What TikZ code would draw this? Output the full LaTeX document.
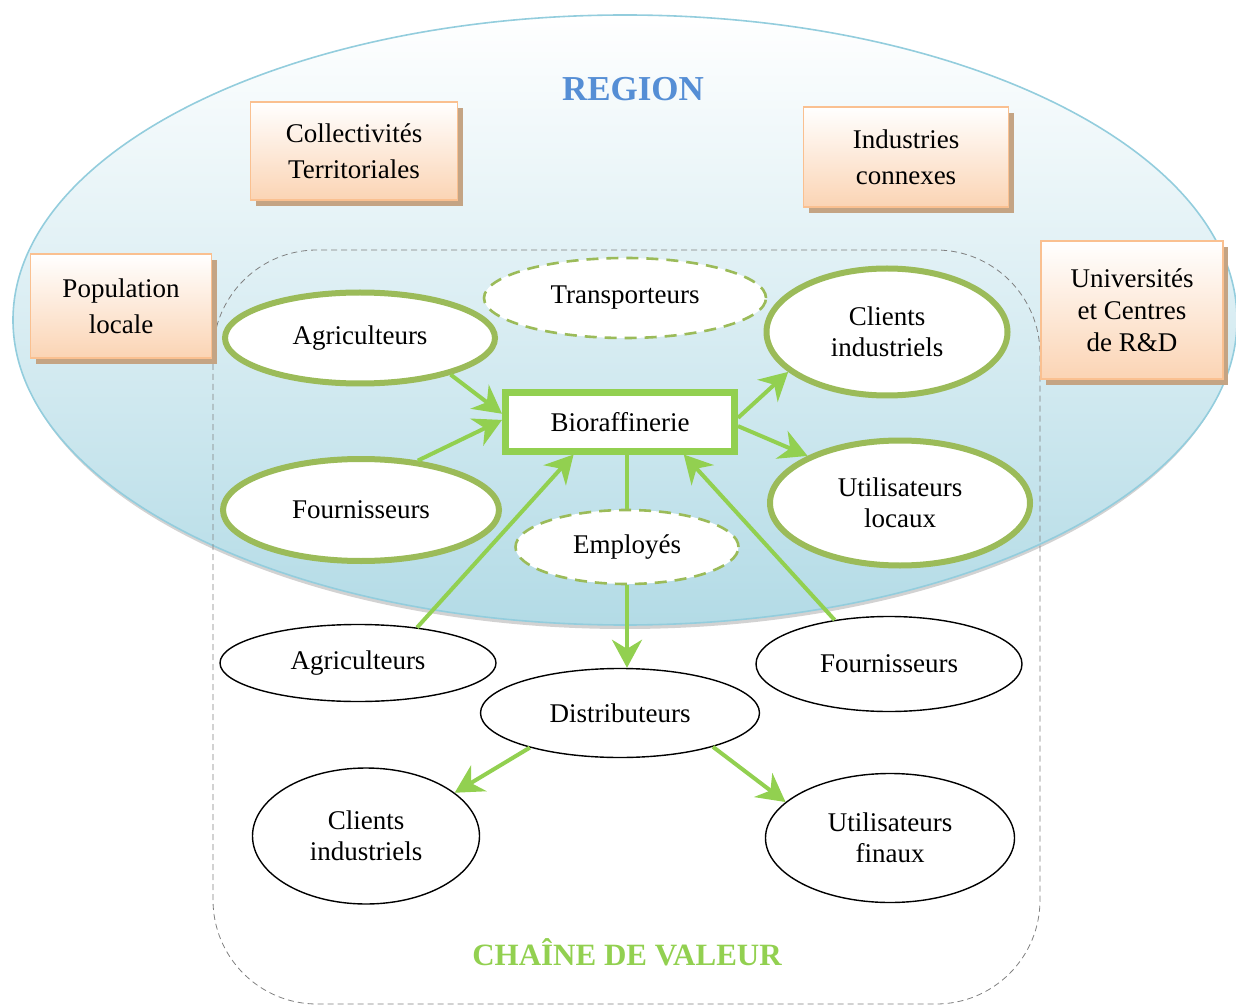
\documentclass[tikz,border=0pt]{standalone}
\usepackage{fontspec}
\setmainfont{Liberation Serif}
\usetikzlibrary{arrows.meta,shadows,shapes.geometric}
\definecolor{regionblue}{HTML}{B3DBE6}
\definecolor{regionline}{HTML}{93CDDD}
\definecolor{regiontitle}{HTML}{558ED5}
\definecolor{leafgreen}{HTML}{9BBB59}
\definecolor{flowgreen}{HTML}{92D050}
\definecolor{boxline}{HTML}{FAC090}
\definecolor{boxfill}{HTML}{FBD4B4}
\definecolor{boxshadow}{HTML}{C4A484}
\begin{document}
\begin{tikzpicture}[x=0.5pt,y=-0.5pt,
    every node/.style={font=\fontsize{13.5}{15.5}\selectfont},
    actor/.style={ellipse, draw=leafgreen, line width=3pt, fill=white, inner sep=0pt, align=center},
    partner/.style={ellipse, draw=leafgreen, dashed, dash pattern=on 6pt off 4pt, line width=1.3pt, fill=white, inner sep=0pt, align=center},
    chain/.style={ellipse, draw=black, line width=0.7pt, fill=white, inner sep=0pt, align=center},
    stake/.style={rectangle, draw=boxline, line width=0.8pt, top color=white, bottom color=boxfill, inner sep=0pt, align=center,
      font=\fontsize{13.5}{18}\selectfont,
      drop shadow={shadow xshift=2.5pt, shadow yshift=-3pt, fill=boxshadow, opacity=1}},
    flow/.style={draw=flowgreen, line width=2pt, -{Stealth[length=14pt, width=15pt, inset=4.5pt]}},
    link/.style={draw=flowgreen, line width=2pt}]
        \useasboundingbox (0,0) rectangle (1236,1005);
        % Region %
        \fill[gray!35] (625,324) ellipse [x radius=305pt, y radius=152.5pt];
        \shade[top color=white, bottom color=regionblue, draw=regionline, line width=0.8pt]
            (625,320) ellipse [x radius=306pt, y radius=152.5pt];
        \node[font=\fontsize{17.5}{20}\selectfont\bfseries, text=regiontitle] (region) at (633,89) {REGION};
        % Value chain %
        \draw[gray, line width=0.4pt, densely dashed, rounded corners=52pt] (213,250) rectangle (1040,1004);
        \node[font=\fontsize{15.5}{18}\selectfont\bfseries, text=flowgreen] (chaine) at (627,952) {CHAÎNE DE VALEUR};
        % Stakeholders %
        \node[stake, minimum width=103.5pt, minimum height=49pt] (collec) at (354,151) {Collectivités\\Territoriales};
        \node[stake, minimum width=102.5pt, minimum height=50pt] (indus) at (906,157) {Industries\\connexes};
        \node[stake, minimum width=90.5pt, minimum height=52pt] (popu) at (121,306) {Population\\locale};
        \node[stake, font=\fontsize{13.5}{16}\selectfont, minimum width=91pt, minimum height=69pt] (univ) at (1132,310) {Universités\\et Centres\\de R\&D};
        % Local actors %
        \node[actor, minimum width=135pt, minimum height=45.5pt] (agri1) at (360,338) {Agriculteurs};
        \node[actor, minimum width=138pt, minimum height=51pt] (four1) at (361,510) {Fournisseurs};
        \node[actor, minimum width=120.5pt, minimum height=63.5pt] (cli1) at (887,332) {Clients\\industriels};
        \node[actor, minimum width=130pt, minimum height=62.5pt] (util1) at (900,503) {Utilisateurs\\locaux};
        \node[partner, minimum width=141pt, minimum height=40pt] (trans) at (625,298) {Transporteurs};
        \node[partner, minimum width=111.5pt, minimum height=37pt] (emp) at (627,547) {Employés};
        \node[rectangle, draw=flowgreen, line width=3.5pt, fill=white, minimum width=114.5pt, minimum height=29pt] (bio) at (620,422) {Bioraffinerie};
        % Outer chain %
        \node[chain, minimum width=138pt, minimum height=38.5pt] (agri2) at (358,663) {Agriculteurs};
        \node[chain, minimum width=133pt, minimum height=47.5pt] (four2) at (889,664) {Fournisseurs};
        \node[chain, minimum width=139.5pt, minimum height=44.5pt] (dist) at (620,713) {Distributeurs};
        \node[chain, minimum width=113.5pt, minimum height=68pt] (cli2) at (366,836) {Clients\\industriels};
        \node[chain, minimum width=124.5pt, minimum height=64.5pt] (util2) at (890,838) {Utilisateurs\\finaux};
        % Arrows %
        \draw[flow] (agri1.-22) -- (bio.176);
        \draw[flow] (four1.41) -- (bio.179);
        \draw[flow] (bio.2) -- (cli1.202);
        \draw[flow] (bio.-2) -- (util1.153);
        \draw[flow] (agri2.31) -- (bio.215);
        \draw[flow] (four2.141) -- (bio.-27);
        \draw[link] (emp.north) -- (emp.north |- bio.south);
        \draw[flow] (emp.south) -- (emp.south |- dist.north);
        \draw[flow] (dist.201) -- (cli2.26);
        \draw[flow] (dist.-20) -- (util2.161);
\end{tikzpicture}
\end{document}
